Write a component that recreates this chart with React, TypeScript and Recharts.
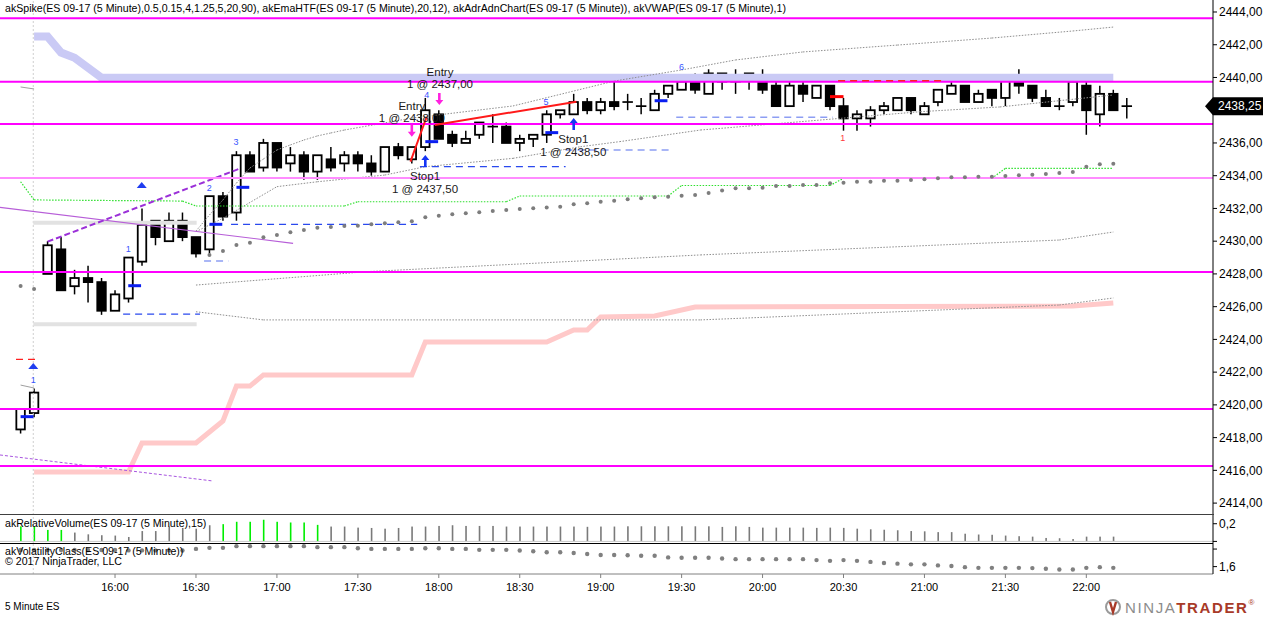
import React from "react";
import { ComposedChart, Bar, Line, Scatter, XAxis, YAxis, ReferenceLine } from "recharts";

const FONT = "'Liberation Sans', Arial, sans-serif";

// bar index 0 = 15:25, one bar per 5 minutes
const opens = [
  2418.5, 2419.5, 2428, 2429.5, 2427.25, 2427.75, 2427.5, 2425.75, 2426.5, 2428.75,
  2431.25, 2430, 2431.25, 2430.25, 2429.5, 2432.75, 2431.75, 2435.25, 2434.5, 2436,
  2434.75, 2435.25, 2434.25, 2435, 2434.75, 2435.25, 2434.75, 2434.25, 2435.75, 2435,
  2435.75, 2437.75, 2436.5, 2436, 2436.5, 2437, 2437, 2436, 2436.25, 2436.5,
  2437.75, 2437.75, 2438.5, 2438, 2438.5, 2438.5, 2438.25, 2438, 2439, 2439.25,
  2440, 2439, 2440.25, 2439.75, 2440, 2440, 2439.5, 2438.25, 2439.5, 2438.75,
  2439.5, 2438.25, 2437.5, 2437.5, 2438, 2438, 2438.75, 2437.75, 2438.5, 2439,
  2439.5, 2438.5, 2439.25, 2438.75, 2440, 2439.5, 2438.75, 2438.25, 2438.5, 2439.5,
  2437.75, 2439, 2438.25,
];
const highs = [
  2419.75, 2421, 2430, 2430.25, 2428.25, 2428.5, 2427.75, 2427, 2429, 2432,
  2431.25, 2431.75, 2431.75, 2430.25, 2432.75, 2433, 2435.5, 2435.5, 2436.25, 2436,
  2435.75, 2435.5, 2435.25, 2435.75, 2435.5, 2435.5, 2435.25, 2435.75, 2436, 2435.75,
  2438.75, 2438, 2436.75, 2436.75, 2437.25, 2437.75, 2437.25, 2436.5, 2436.5, 2438,
  2438, 2439, 2438.75, 2438.75, 2439.75, 2439, 2438.75, 2439.25, 2439.5, 2440,
  2440.25, 2440.5, 2440.25, 2440.5, 2440.25, 2440.5, 2440, 2439.75, 2439.75, 2439.5,
  2439.5, 2438.75, 2438, 2438.25, 2438.5, 2438.75, 2438.75, 2438.5, 2439.25, 2439.75,
  2439.5, 2439.25, 2439.25, 2440, 2440.5, 2439.5, 2439.25, 2438.75, 2439.75, 2439.75,
  2439.5, 2439.25, 2438.75,
];
const lows = [
  2418.25, 2419.25, 2428, 2427, 2426.75, 2426.25, 2425.5, 2425.75, 2426.25, 2428.5,
  2429.75, 2430, 2430, 2429, 2429.25, 2431.25, 2431.25, 2434.25, 2434.25, 2434.25,
  2434.25, 2433.75, 2433.75, 2434.25, 2434.25, 2434.25, 2434, 2434.25, 2435, 2434.75,
  2435.5, 2436.25, 2435.75, 2436, 2436.25, 2436, 2436, 2435.5, 2435.75, 2436,
  2437.5, 2437.75, 2437.75, 2437.75, 2438, 2438, 2437.75, 2438, 2438.75, 2439.25,
  2439, 2439, 2439.25, 2439, 2439.25, 2439, 2438.25, 2438.25, 2438.5, 2438.75,
  2438, 2436.75, 2436.75, 2437, 2437.75, 2438, 2437.75, 2437.75, 2438.25, 2439,
  2438.5, 2438.5, 2438.25, 2438.25, 2439, 2438.5, 2438.25, 2438, 2438.25, 2436.5,
  2437, 2438, 2437.5,
];
const closes = [
  2419.75, 2420.75, 2429.75, 2427, 2427.75, 2427.5, 2425.75, 2426.75, 2429, 2431,
  2430.25, 2431.25, 2430.25, 2429.25, 2432.75, 2431.5, 2435.25, 2434.25, 2436, 2434.5,
  2435.25, 2434.25, 2435.25, 2434.5, 2435.25, 2434.75, 2434.25, 2435.75, 2435.25, 2435.75,
  2438, 2436.25, 2436, 2436.25, 2437.25, 2437, 2436, 2436.25, 2436.5, 2437.75,
  2438, 2438.5, 2438, 2438.5, 2438.25, 2438.5, 2438.25, 2439, 2439.5, 2439.75,
  2439.25, 2440.25, 2439.75, 2439.75, 2440.25, 2439.25, 2438.25, 2439.5, 2439, 2439.5,
  2438.25, 2437.5, 2437.75, 2438, 2438.25, 2438.75, 2438, 2438.25, 2439.25, 2439.5,
  2438.5, 2439, 2438.75, 2440, 2439.5, 2438.75, 2438.25, 2438.25, 2439.75, 2438,
  2439, 2438, 2438.25,
];

const priceTicks = [2414, 2416, 2418, 2420, 2422, 2424, 2426, 2428, 2430, 2432, 2434, 2436, 2438, 2440, 2442, 2444];
const timeTickIdx = [7, 13, 19, 25, 31, 37, 43, 49, 55, 61, 67, 73, 79];
const timeLabels = ["16:00", "16:30", "17:00", "17:30", "18:00", "18:30", "19:00", "19:30", "20:00", "20:30", "21:00", "21:30", "22:00"];

// horizontal levels
const magentaLevels = [2443.62, 2439.74, 2437.16, 2428.12, 2419.75, 2416.27];
const pinkLevels = [2433.86];

// indicator lines (vertices: bar index, price)
const emaHtf = [
  { i: 1, p: 2442.5 }, { i: 2, p: 2442.5 }, { i: 3, p: 2441.52 }, { i: 4, p: 2441.2 },
  { i: 6, p: 2439.98 }, { i: 81, p: 2439.98 },
];
const adrLow = [
  { i: 1, p: 2415.9 }, { i: 8, p: 2415.9 }, { i: 9, p: 2417.67 }, { i: 13, p: 2417.67 },
  { i: 14, p: 2418.34 }, { i: 15, p: 2419.02 }, { i: 16, p: 2421.15 }, { i: 17, p: 2421.15 },
  { i: 18, p: 2421.83 }, { i: 29, p: 2421.83 }, { i: 30, p: 2423.84 }, { i: 39, p: 2423.84 },
  { i: 40, p: 2424.21 }, { i: 41, p: 2424.57 }, { i: 42, p: 2424.57 }, { i: 43, p: 2425.37 },
  { i: 47, p: 2425.43 }, { i: 50, p: 2425.98 }, { i: 78, p: 2426.04 }, { i: 81, p: 2426.22 },
];
const bandOuterUp = [
  { i: 13, p: 2430.62 }, { i: 14, p: 2431.6 }, { i: 15, p: 2432.52 }, { i: 16, p: 2433.55 },
  { i: 17, p: 2434.47 }, { i: 18, p: 2435.02 }, { i: 19, p: 2435.57 }, { i: 20, p: 2435.88 },
  { i: 21, p: 2436.18 }, { i: 22, p: 2436.43 }, { i: 23, p: 2436.61 }, { i: 24, p: 2436.79 },
  { i: 29, p: 2437.52 }, { i: 36.5, p: 2438.26 }, { i: 44, p: 2439.78 }, { i: 49, p: 2440.46 },
  { i: 53, p: 2441.07 }, { i: 58, p: 2441.56 }, { i: 65, p: 2441.98 }, { i: 72, p: 2442.41 },
  { i: 78, p: 2442.84 }, { i: 81, p: 2443.08 },
];
const bandInnerUp = [
  { i: 13, p: 2430.58 }, { i: 15, p: 2431.4 }, { i: 19, p: 2433.33 }, { i: 22, p: 2433.63 },
  { i: 27, p: 2434.04 }, { i: 30, p: 2434.55 }, { i: 36.5, p: 2435.06 }, { i: 41.5, p: 2435.77 },
  { i: 44.4, p: 2436.08 }, { i: 50.4, p: 2436.79 }, { i: 66.7, p: 2437.91 }, { i: 72.6, p: 2438.2 },
  { i: 81, p: 2438.93 },
];
const bandInnerDn = [
  { i: 13, p: 2427.32 }, { i: 25.7, p: 2428.14 }, { i: 50.4, p: 2429.16 }, { i: 77, p: 2430.07 },
  { i: 81, p: 2430.56 },
];
const bandOuterDn = [
  { i: 13, p: 2425.69 }, { i: 18, p: 2425.19 }, { i: 50.4, p: 2425.19 }, { i: 77, p: 2426.1 },
  { i: 81, p: 2426.53 },
];
const vwap = [
  { i: 0, p: 2433.63 }, { i: 1, p: 2432.52 }, { i: 12, p: 2432.45 }, { i: 13, p: 2432.15 },
  { i: 24, p: 2432.15 }, { i: 25, p: 2432.41 }, { i: 36, p: 2432.41 }, { i: 37, p: 2432.76 },
  { i: 48, p: 2432.76 }, { i: 49, p: 2433.4 }, { i: 60, p: 2433.4 }, { i: 61, p: 2433.84 },
  { i: 72, p: 2433.84 }, { i: 73, p: 2434.45 }, { i: 81, p: 2434.45 },
];
const trailIdx = [0, 1, 14, 15, 16, 17, 18, 19, 20, 21, 22, 23, 24, 25, 26, 27, 28, 29, 30, 31, 32, 33, 34, 35, 36, 37, 38, 39, 40, 41, 42, 43, 44, 45, 46, 47, 48, 49, 50, 51, 52, 53, 54, 55, 56, 57, 58, 59, 60, 61, 62, 63, 64, 65, 66, 67, 68, 69, 70, 71, 72, 73, 74, 75, 76, 77, 78, 79, 80, 81];
const trailVals = [
  2427.26, 2427.08, 2429.16, 2429.4, 2429.77, 2429.91, 2430.24, 2430.38, 2430.54, 2430.68,
  2430.82, 2430.87, 2430.93, 2430.95, 2431.03, 2431.09, 2431.15, 2431.21, 2431.46, 2431.56,
  2431.64, 2431.7, 2431.76, 2431.84, 2431.9, 2431.97, 2432.01, 2432.05, 2432.11, 2432.25,
  2432.31, 2432.41, 2432.47, 2432.56, 2432.62, 2432.68, 2432.72, 2432.78, 2432.82, 2432.94,
  2433.1, 2433.23, 2433.23, 2433.27, 2433.37, 2433.37, 2433.43, 2433.43, 2433.54, 2433.57,
  2433.63, 2433.63, 2433.69, 2433.69, 2433.74, 2433.78, 2433.84, 2433.9, 2433.9, 2433.94,
  2433.94, 2433.98, 2434.02, 2434.06, 2434.1, 2434.17, 2434.23, 2434.55, 2434.7, 2434.73,
];

// drawn objects (bar index / price)
const trendDashed = [{ a: 2, pa: 2429.97, b: 16.3, pb: 2434.45 }];
const trendSolid = [{ a: -1.527, pa: 2432.07, b: 20.2, pb: 2429.87 }];
const trendLowDashed = [{ a: -1.527, pa: 2416.94, b: 14.26, pb: 2415.35 }];
const spikeLines = [
  { a: 28.9, pa: 2434.86, b: 30.1, pb: 2437.6 },
  { a: 30.7, pa: 2437.1, b: 41.2, pb: 2438.52 },
];
const redDashed = [{ a: 60.6, b: 68.3, p: 2439.8 }, { a: -0.34, b: 1.36, p: 2422.78 }];
const redTick = [{ a: 60, b: 61, p: 2438.83 }];
const stopDark = [{ a: 7.6, b: 13.3, p: 2425.55 }, { a: 15.6, b: 29.4, p: 2431.03 }, { a: 29.6, b: 40.4, p: 2434.55 }];
const stopLight = [{ a: 13.6, b: 15.4, p: 2428.79 }, { a: 40.4, b: 48.4, p: 2435.57 }, { a: 48.6, b: 60.2, p: 2437.57 }];
const greyBars = [{ a: 0.94, b: 13.05, p: 2431.13 }, { a: 0.94, b: 13.05, p: 2424.92 }];
const entryTicks = [
  { i: 0, p: 2419.28 }, { i: 7.98, p: 2427.28 }, { i: 14, p: 2431.03 }, { i: 16, p: 2433.29 },
  { i: 30, p: 2436.08 }, { i: 38.9, p: 2436.63 }, { i: 47, p: 2438.58 },
];
const prevTails = [{ a: 0, pa: 2439.42, b: 1, pb: 2439.3 }, { a: 0, pa: 2421.21, b: 1, pb: 2421.03 }];
const upTriangles = [{ i: 0.94, p: 2422.37 }, { i: 8.98, p: 2433.43 }];
const upArrows = [{ i: 30, p: 2435.26 }, { i: 41, p: 2437.52 }];
const downArrows = [{ i: 29, p: 2436.38 }, { i: 31.04, p: 2438.32 }];
const countLabels = [
  { i: 0.94, p: 2421.52, t: "1" }, { i: 7.98, p: 2429.5, t: "1" }, { i: 13.99, p: 2433.27, t: "2" },
  { i: 15.97, p: 2436.04, t: "3" }, { i: 30.1, p: 2438.92, t: "4" }, { i: 38.95, p: 2438.52, t: "5" },
  { i: 49, p: 2440.66, t: "6" },
];
const sellLabels = [{ i: 60.94, p: 2436.28, t: "1" }];
const orderNotes = [
  { i: 31.09, p: 2440.35, t: "Entry" }, { i: 31.09, p: 2439.6, t: "1 @ 2437,00" },
  { i: 29.0, p: 2438.28, t: "Entry" }, { i: 29.0, p: 2437.5, t: "1 @ 2438,00" },
  { i: 29.98, p: 2433.98, t: "Stop1" }, { i: 29.98, p: 2433.19, t: "1 @ 2437,50" },
  { i: 40.97, p: 2436.22, t: "Stop1" }, { i: 40.97, p: 2435.43, t: "1 @ 2438,50" },
];

// lower panels
const relVolume = [
  0.17, 0.17, 0.13, 0.13, 0.1, 0.08, 0.07, 0.066, 0.05, 0.117,
  0.117, 0.168, 0.152, 0.144, 0.183, 0.195, 0.222, 0.222, 0.245, 0.222,
  0.214, 0.214, 0.187, 0.168, 0.168, 0.156, 0.152, 0.144, 0.152, 0.168,
  0.168, 0.175, 0.183, 0.175, 0.175, 0.175, 0.168, 0.168, 0.168, 0.168,
  0.168, 0.168, 0.165, 0.168, 0.168, 0.171, 0.171, 0.171, 0.171, 0.171,
  0.171, 0.171, 0.164, 0.171, 0.164, 0.156, 0.156, 0.156, 0.156, 0.153,
  0.156, 0.153, 0.144, 0.137, 0.132, 0.126, 0.117, 0.114, 0.105, 0.105,
  0.087, 0.078, 0.075, 0.066, 0.059, 0.054, 0.039, 0.036, 0.027, 0.054,
  0.054, 0.054,
];
const highVolumeIdx = [0, 1, 2, 3, 15, 16, 17, 18, 19, 20, 21, 22];
const volClass = [
  1.79, 1.79, 1.79, 1.79, 1.79, 1.79, 1.79, 1.79, 1.785, 1.785,
  1.785, 1.785, 1.783, 1.802, 1.814, 1.814, 1.833, 1.833, 1.833, 1.833,
  1.833, 1.833, 1.822, 1.822, 1.822, 1.81, 1.802, 1.802, 1.802, 1.802,
  1.81, 1.81, 1.802, 1.802, 1.791, 1.791, 1.791, 1.783, 1.775, 1.763,
  1.763, 1.755, 1.744, 1.732, 1.732, 1.73, 1.724, 1.724, 1.705, 1.701,
  1.701, 1.701, 1.693, 1.685, 1.685, 1.685, 1.685, 1.685, 1.685, 1.674,
  1.666, 1.674, 1.666, 1.654, 1.641, 1.634, 1.626, 1.626, 1.614, 1.607,
  1.594, 1.586, 1.586, 1.586, 1.586, 1.583, 1.575, 1.567, 1.567, 1.586,
  1.594, 1.586,
];

const X_DOMAIN: [number, number] = [-1.527, 88.39];
const W = 1264;
const AXIS_W = 51;
const BODY_W = 8.5;

const candles = opens.map((o, i) => ({ i, o, h: highs[i], l: lows[i], c: closes[i], hl: [lows[i], highs[i]] }));
const trail = trailIdx.map((i, k) => ({ i, p: trailVals[k] }));
const volRows = relVolume.map((v, i) => ({ i, v, hot: highVolumeIdx.includes(i) }));
const classRows = volClass.map((v, i) => ({ i, v }));
const lastClose = closes[closes.length - 1];

const fmt2 = (v: number) => v.toFixed(2).replace(".", ",");

const seg = (a: number, pa: number, b: number, pb: number) => [{ x: a, y: pa }, { x: b, y: pb }] as any;
const toSegs = (pts: { i: number; p: number }[]) => pts.slice(1).map((q, k) => seg(pts[k].i, pts[k].p, q.i, q.p));

function Candle(props: any) {
  const { x, y, width, height, payload } = props;
  if (!payload || x == null || y == null) return null;
  const { o, h, l, c } = payload;
  const top0 = Math.min(y, y + height);
  const hPx = Math.abs(height);
  const ppu = hPx / (h - l);
  const cx = x + (width || 0) / 2;
  const bx = cx - BODY_W / 2;
  const bTop = top0 + (h - Math.max(o, c)) * ppu;
  const bBot = top0 + (h - Math.min(o, c)) * ppu;
  return (
    <g>
      <line x1={cx} x2={cx} y1={top0} y2={top0 + hPx} stroke="#000" strokeWidth={1.5} />
      {o === c ? (
        <line x1={bx - 1} x2={bx + BODY_W + 1} y1={bTop} y2={bTop} stroke="#000" strokeWidth={1.7} />
      ) : (
        <rect x={bx} y={bTop} width={BODY_W} height={Math.max(bBot - bTop, 1)} fill={c > o ? "#fff" : "#000"} stroke="#000" strokeWidth={1.8} />
      )}
    </g>
  );
}

function VolBar(props: any) {
  const { x, y, width, height, payload } = props;
  if (!payload || x == null || y == null) return null;
  const cx = x + (width || 0) / 2;
  const top0 = Math.min(y, y + height);
  return <rect x={cx - 0.8} y={top0} width={1.6} height={Math.abs(height)} fill={payload.hot ? "#00ee00" : "#7a7a7a"} />;
}

const GreyDot = (p: any) => <circle cx={p.cx} cy={p.cy} r={2} fill="#7d7d7d" />;
const VolDot = (p: any) => <circle cx={p.cx} cy={p.cy} r={2.2} fill="#808080" />;

const Tri = (p: any) => (
  <path d={`M${p.cx - 5},${p.cy + 3} L${p.cx},${p.cy - 3} L${p.cx + 5},${p.cy + 3} Z`} fill="#1f3df0" />
);
const UpArrow = (p: any) => (
  <path d={`M${p.cx},${p.cy} L${p.cx - 4},${p.cy + 5} L${p.cx - 1.3},${p.cy + 5} L${p.cx - 1.3},${p.cy + 12} L${p.cx + 1.3},${p.cy + 12} L${p.cx + 1.3},${p.cy + 5} L${p.cx + 4},${p.cy + 5} Z`} fill="#1434f5" />
);
const DownArrow = (p: any) => (
  <path d={`M${p.cx},${p.cy} L${p.cx - 4},${p.cy - 5} L${p.cx - 1.3},${p.cy - 5} L${p.cx - 1.3},${p.cy - 12} L${p.cx + 1.3},${p.cy - 12} L${p.cx + 1.3},${p.cy - 5} L${p.cx + 4},${p.cy - 5} Z`} fill="#ff22e0" />
);
const CountText = (color: string) => (p: any) => (
  <text x={p.cx} y={p.cy} fill={color} fontSize={9} fontFamily={FONT} textAnchor="middle" dominantBaseline="central">
    {p.payload.t}
  </text>
);
const NoteText = (p: any) => (
  <text x={p.cx} y={p.cy} fill="#1a1a1a" fontSize={11.5} fontFamily={FONT} textAnchor="middle" dominantBaseline="central">
    {p.payload.t}
  </text>
);

const PriceTag = (props: any) => {
  const vb = props.viewBox;
  if (!vb) return null;
  const x = vb.x + vb.width;
  const y = vb.y;
  return (
    <g>
      <path d={`M${x - 8},${y} L${x},${y - 9} L${x + 50},${y - 9} L${x + 50},${y + 9} L${x},${y + 9} Z`} fill="#000" />
      <text x={x + 5} y={y} fill="#fff" fontSize={12} fontFamily={FONT} dominantBaseline="central">
        {fmt2(lastClose)}
      </text>
    </g>
  );
};

const dotted = { stroke: "#8e8e8e", strokeWidth: 1, strokeDasharray: "1.5 1.5" };

export default function App() {
  return (
    <div style={{ position: "absolute", left: 0, top: 0, width: W, height: 617, background: "#fff", fontFamily: FONT, overflow: "hidden" }}>
      {/* price panel */}
      <div style={{ position: "absolute", left: 0, top: 0 }}>
        <ComposedChart width={W} height={515} data={candles} margin={{ top: 0, right: 0, bottom: 0, left: 0 }}>
          <XAxis type="number" dataKey="i" domain={X_DOMAIN} hide allowDataOverflow />
          <YAxis
            orientation="right"
            type="number"
            domain={[2413.273, 2444.733]}
            allowDataOverflow
            ticks={priceTicks}
            interval={0}
            tickFormatter={(v: number) => (Math.abs(v - lastClose) < 1 ? "" : fmt2(v))}
            width={AXIS_W}
            stroke="#000"
            tickSize={4}
            tickMargin={2}
            tick={{ fontSize: 12, fill: "#000", fontFamily: FONT }}
          />
          <ReferenceLine x={0.94} stroke="#cfcfcf" strokeDasharray="2 2" />
          {greyBars.map((s, k) => (
            <ReferenceLine key={"gb" + k} segment={seg(s.a, s.p, s.b, s.p)} stroke="#e2e2e2" strokeWidth={4} />
          ))}
          <Line data={emaHtf} dataKey="p" type="linear" stroke="#cacaf5" strokeWidth={8} dot={false} activeDot={false} isAnimationActive={false} />
          <Line data={adrLow} dataKey="p" type="linear" stroke="#ffc9c9" strokeWidth={5} dot={false} activeDot={false} isAnimationActive={false} />
          {[bandOuterUp, bandInnerUp, bandInnerDn, bandOuterDn].map((band, b) =>
            toSegs(band).map((s, k) => <ReferenceLine key={"bd" + b + "-" + k} segment={s} {...dotted} />)
          )}
          {toSegs(vwap).map((s, k) => (
            <ReferenceLine key={"vw" + k} segment={s} stroke="#2fe02f" strokeWidth={1.2} strokeDasharray="1.5 1.5" />
          ))}
          {prevTails.map((s, k) => (
            <ReferenceLine key={"pt" + k} segment={seg(s.a, s.pa, s.b, s.pb)} stroke="#a0a0a0" strokeWidth={1} />
          ))}
          {stopDark.map((s, k) => (
            <ReferenceLine key={"sd" + k} segment={seg(s.a, s.p, s.b, s.p)} stroke="#2a49ee" strokeWidth={1.3} strokeDasharray="7 5" />
          ))}
          {stopLight.map((s, k) => (
            <ReferenceLine key={"sl" + k} segment={seg(s.a, s.p, s.b, s.p)} stroke="#8d9ef3" strokeWidth={1.3} strokeDasharray="7 5" />
          ))}
          {trendSolid.map((s, k) => (
            <ReferenceLine key={"ts" + k} segment={seg(s.a, s.pa, s.b, s.pb)} stroke="#b75ed8" strokeWidth={1.2} ifOverflow="visible" />
          ))}
          {trendLowDashed.map((s, k) => (
            <ReferenceLine key={"tl" + k} segment={seg(s.a, s.pa, s.b, s.pb)} stroke="#a855e0" strokeWidth={1} strokeDasharray="3 2" ifOverflow="visible" />
          ))}
          <Scatter data={orderNotes} dataKey="p" shape={NoteText} isAnimationActive={false} />
          <Scatter data={trail} dataKey="p" shape={GreyDot} isAnimationActive={false} />
          <Bar dataKey="hl" barSize={9} shape={Candle} isAnimationActive={false} />
          {trendDashed.map((s, k) => (
            <ReferenceLine key={"td" + k} segment={seg(s.a, s.pa, s.b, s.pb)} stroke="#9b30d8" strokeWidth={2} strokeDasharray="6 3" />
          ))}
          {magentaLevels.map((p) => (
            <ReferenceLine key={"m" + p} y={p} stroke="#ff00ff" strokeWidth={2} />
          ))}
          {pinkLevels.map((p) => (
            <ReferenceLine key={"pk" + p} y={p} stroke="#ff8cff" strokeWidth={2} />
          ))}
          {spikeLines.map((s, k) => (
            <ReferenceLine key={"sp" + k} segment={seg(s.a, s.pa, s.b, s.pb)} stroke="#ff1a1a" strokeWidth={2} />
          ))}
          {redDashed.map((s, k) => (
            <ReferenceLine key={"rd" + k} segment={seg(s.a, s.p, s.b, s.p)} stroke="#ff2020" strokeWidth={1.3} strokeDasharray="7 5" ifOverflow="visible" />
          ))}
          {redTick.map((s, k) => (
            <ReferenceLine key={"rt" + k} segment={seg(s.a, s.p, s.b, s.p)} stroke="#ff0000" strokeWidth={3} />
          ))}
          {entryTicks.map((s, k) => (
            <ReferenceLine key={"et" + k} segment={seg(s.i, s.p, s.i + 0.95, s.p)} stroke="#0a1ef0" strokeWidth={3} />
          ))}
          <Scatter data={upTriangles} dataKey="p" shape={Tri} isAnimationActive={false} />
          <Scatter data={upArrows} dataKey="p" shape={UpArrow} isAnimationActive={false} />
          <Scatter data={downArrows} dataKey="p" shape={DownArrow} isAnimationActive={false} />
          <Scatter data={countLabels} dataKey="p" shape={CountText("#3a55ff")} isAnimationActive={false} />
          <Scatter data={sellLabels} dataKey="p" shape={CountText("#ff3a3a")} isAnimationActive={false} />
          <ReferenceLine y={lastClose} stroke="none" label={<PriceTag />} />
        </ComposedChart>
      </div>

      {/* relative volume panel */}
      <div style={{ position: "absolute", left: 0, top: 514 }}>
        <ComposedChart width={W} height={29} data={volRows} margin={{ top: 0, right: 0, bottom: 0, left: 0 }}>
          <XAxis type="number" dataKey="i" domain={X_DOMAIN} hide allowDataOverflow />
          <YAxis
            orientation="right"
            type="number"
            domain={[-0.018, 0.31]}
            allowDataOverflow
            ticks={[0, 0.2]}
            interval={0}
            tickFormatter={(v: number) => (v === 0 ? "" : v.toFixed(1).replace(".", ","))}
            width={AXIS_W}
            stroke="#000"
            tickSize={4}
            tickMargin={2}
            tick={{ fontSize: 12, fill: "#000", fontFamily: FONT }}
          />
          <ReferenceLine x={0.94} stroke="#cfcfcf" strokeDasharray="2 2" />
          <ReferenceLine y={0} stroke="#c8c8c8" strokeWidth={1} />
          <Bar dataKey="v" barSize={2} shape={VolBar} isAnimationActive={false} />
        </ComposedChart>
      </div>

      {/* volatility class panel + time axis */}
      <div style={{ position: "absolute", left: 0, top: 543 }}>
        <ComposedChart width={W} height={62} data={classRows} margin={{ top: 0, right: 0, bottom: 0, left: 0 }}>
          <XAxis
            type="number"
            dataKey="i"
            domain={X_DOMAIN}
            allowDataOverflow
            ticks={timeTickIdx}
            interval={0}
            tickFormatter={(v: number) => timeLabels[timeTickIdx.indexOf(v)] || ""}
            height={31}
            stroke="#808080"
            tickSize={4}
            tickMargin={5}
            tick={{ fontSize: 11, fill: "#000", fontFamily: FONT }}
          />
          <YAxis
            orientation="right"
            type="number"
            domain={[1.516, 1.869]}
            allowDataOverflow
            ticks={[1.6, 1.8]}
            interval={0}
            tickFormatter={(v: number) => (v === 1.6 ? "1,6" : "")}
            width={AXIS_W}
            stroke="#000"
            tickSize={4}
            tickMargin={2}
            tick={{ fontSize: 12, fill: "#000", fontFamily: FONT }}
          />
          <ReferenceLine x={0.94} stroke="#cfcfcf" strokeDasharray="2 2" />
          <Scatter dataKey="v" shape={VolDot} isAnimationActive={false} />
        </ComposedChart>
      </div>

      {/* panel separators */}
      <div style={{ position: "absolute", left: 0, top: 514, width: 1213, height: 1, background: "#404040" }} />
      <div style={{ position: "absolute", left: 0, top: 543, width: 1213, height: 1, background: "#000" }} />

      {/* texts */}
      <div style={{ position: "absolute", left: 5, top: 2, fontSize: 10.6, color: "#000", whiteSpace: "nowrap" }}>
        akSpike(ES 09-17 (5 Minute),0.5,0.15,4,1.25,5,20,90), akEmaHTF(ES 09-17 (5 Minute),20,12), akAdrAdnChart(ES 09-17 (5 Minute)), akVWAP(ES 09-17 (5 Minute),1)
      </div>
      <div style={{ position: "absolute", left: 5, top: 517, fontSize: 10.6, color: "#000", whiteSpace: "nowrap" }}>
        akRelativeVolume(ES 09-17 (5 Minute),15)
      </div>
      <div style={{ position: "absolute", left: 5, top: 545, fontSize: 10.6, color: "#000", whiteSpace: "nowrap" }}>
        akVolatilityClass(ES 09-17 (5 Minute))
      </div>
      <div style={{ position: "absolute", left: 5, top: 555, fontSize: 10.6, color: "#000", whiteSpace: "nowrap" }}>
        © 2017 NinjaTrader, LLC
      </div>
      <div style={{ position: "absolute", left: 5, top: 601, fontSize: 10, color: "#000", whiteSpace: "nowrap" }}>
        5 Minute ES
      </div>
      <div style={{ position: "absolute", left: 1104, top: 598, height: 18, display: "flex", alignItems: "center", whiteSpace: "nowrap" }}>
        <svg width={18} height={18}>
          <circle cx={9} cy={9} r={7} fill="none" stroke="#9a9a9a" strokeWidth={2} />
          <path d="M6,4 L9,14 L12,4" fill="none" stroke="#a83a28" strokeWidth={2.4} />
        </svg>
        <span style={{ fontSize: 15, letterSpacing: 1.6, color: "#8c8c8c", marginLeft: 3 }}>NINJA</span>
        <span style={{ fontSize: 15, letterSpacing: 1.6, color: "#a83a28", fontWeight: "bold" }}>TRADER</span>
        <span style={{ fontSize: 8, color: "#a83a28", alignSelf: "flex-start" }}>®</span>
      </div>
    </div>
  );
}
